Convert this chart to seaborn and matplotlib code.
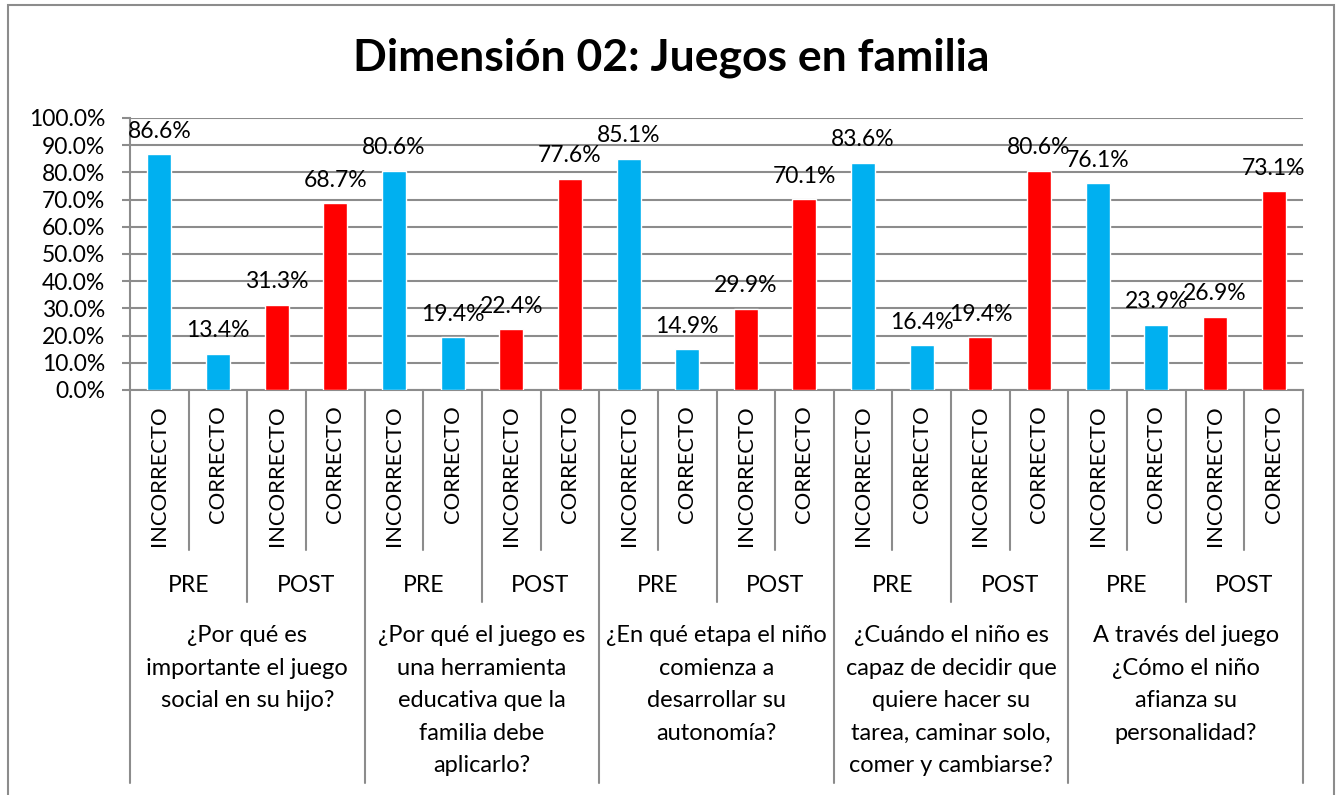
import pandas as pd
import matplotlib.pyplot as plt
import matplotlib.patches as mpatches
import seaborn as sns

# Datos (porcentajes) por pregunta: PRE incorrecto/correcto, POST incorrecto/correcto
preguntas = [
    '¿Por qué es\nimportante el juego\nsocial en su hijo?',
    '¿Por qué el juego es\nuna herramienta\neducativa que la\nfamilia debe\naplicarlo?',
    '¿En qué etapa el niño\ncomienza a\ndesarrollar su\nautonomía?',
    '¿Cuándo el niño es\ncapaz de decidir que\nquiere hacer su\ntarea, caminar solo,\ncomer y cambiarse?',
    'A través del juego\n¿Cómo el niño\nafianza su\npersonalidad?',
]
fases = ['PRE', 'POST']
respuestas = ['INCORRECTO', 'CORRECTO']
pre_incorrecto = [86.6, 80.6, 85.1, 83.6, 76.1]
pre_correcto = [13.4, 19.4, 14.9, 16.4, 23.9]
post_incorrecto = [31.3, 22.4, 29.9, 19.4, 26.9]
post_correcto = [68.7, 77.6, 70.1, 80.6, 73.1]
y_ticks = [0, 10, 20, 30, 40, 50, 60, 70, 80, 90, 100]

# Tabla larga
filas = []
for q in range(len(preguntas)):
    vals = [pre_incorrecto[q], pre_correcto[q], post_incorrecto[q], post_correcto[q]]
    for j, v in enumerate(vals):
        filas.append({'barra': 4 * q + j, 'fase': fases[j // 2],
                      'respuesta': respuestas[j % 2], 'valor': v})
df = pd.DataFrame(filas)

sns.set_style('white')
plt.rcParams['font.family'] = ['Lato', 'DejaVu Sans']
plt.rcParams['text.color'] = 'black'
plt.rcParams['ytick.labelcolor'] = 'black'

W, H = 1343, 795
fig = plt.figure(figsize=(W / 100, H / 100), dpi=100)
x0, x1, y_top, y_bot = 130, 1303, 118, 390
ax = fig.add_axes([x0 / W, 1 - y_bot / H, (x1 - x0) / W, (y_bot - y_top) / H])

gris = '#8c8c8c'
fs = 16.5
sns.barplot(data=df, x='barra', y='valor', hue='fase', dodge=False,
            palette={'PRE': '#00B0F0', 'POST': '#FF0000'}, width=0.41,
            saturation=1, legend=False, ax=ax, zorder=3)

for cont in ax.containers:
    ax.bar_label(cont, fmt='%.1f%%', padding=9, fontsize=fs, color='black')

ax.set_xlim(-0.5, len(df) - 0.5)
ax.set_ylim(0, 100)
ax.set_yticks(y_ticks)
ax.set_yticklabels([f'{t:.1f}%' for t in y_ticks], fontsize=fs)
ax.tick_params(axis='y', length=6, color=gris, width=1.5, pad=12, left=True)
ax.tick_params(axis='x', bottom=False, labelbottom=False)
ax.set_xlabel('')
ax.set_ylabel('')
ax.yaxis.grid(True, color=gris, lw=1.5, zorder=0)
ax.set_axisbelow(True)
for s in ['top', 'right']:
    ax.spines[s].set_visible(False)
for s in ['left', 'bottom']:
    ax.spines[s].set_color(gris)
    ax.spines[s].set_linewidth(1.5)

# Eje de categorías jerárquico
def yp(p):
    return (y_bot - p) / (y_bot - y_top)

tr = ax.get_xaxis_transform()
n = len(df)
for k in range(n + 1):
    if k % 4 == 0:
        fin = 783
    elif k % 2 == 0:
        fin = 602
    else:
        fin = 550
    ax.plot([k - 0.5, k - 0.5], [0, yp(fin)], color=gris, lw=1.5,
            transform=tr, clip_on=False)

for _, r in df.iterrows():
    ax.text(r['barra'], yp(405), r['respuesta'], rotation=90, ha='center',
            va='top', fontsize=15.8, transform=tr)

for q, texto in enumerate(preguntas):
    for f, fase in enumerate(fases):
        ax.text(4 * q + 2 * f + 0.5, yp(585), fase, ha='center', va='center',
                fontsize=fs, transform=tr)
    ax.text(4 * q + 1.5, yp(625), texto, ha='center', va='top', fontsize=17,
            linespacing=1.68, transform=tr)

fig.text(0.5, 1 - 58 / H, 'Dimensión 02: Juegos en familia', ha='center',
         va='center', fontsize=32, fontweight='bold')

fig.add_artist(mpatches.Rectangle((8 / W, -0.01), (1334 - 8) / W, 1 - 5 / H + 0.01,
                                  transform=fig.transFigure, fill=False,
                                  edgecolor=gris, lw=1.5))

fig.savefig('out.png', dpi=100)
